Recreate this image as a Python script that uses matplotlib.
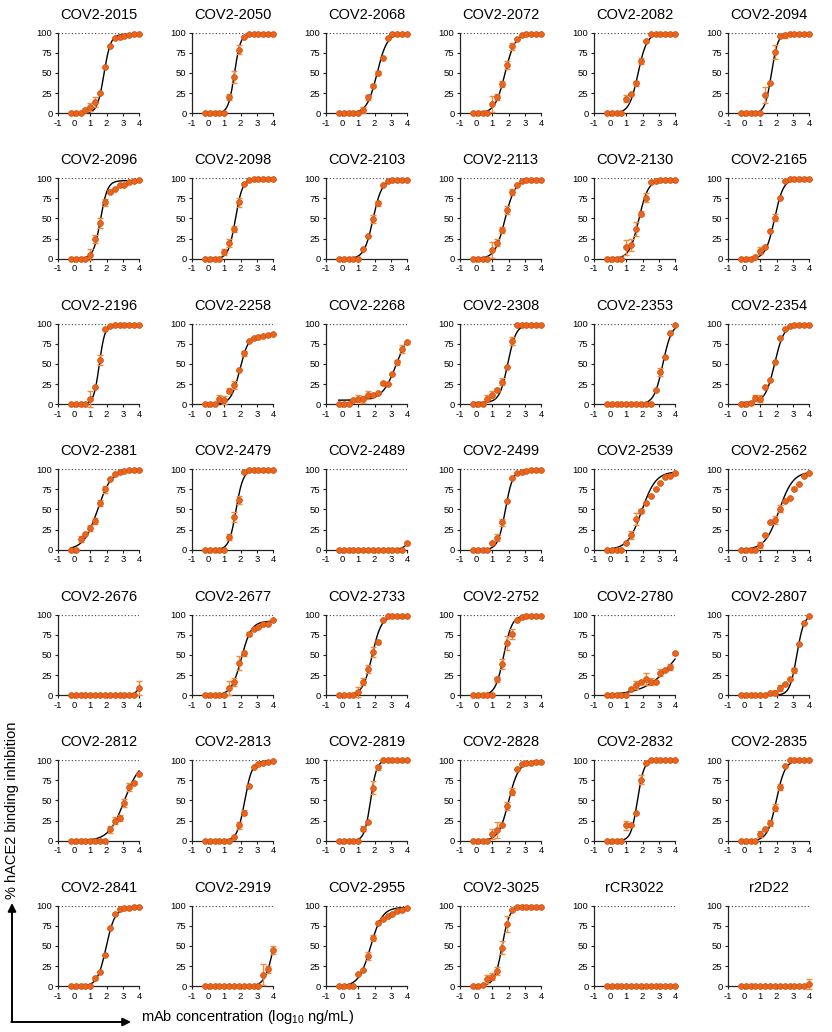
import numpy as np
import matplotlib
matplotlib.use("Agg")
import matplotlib.pyplot as plt
from matplotlib.patches import FancyArrowPatch

plt.rcParams['font.family'] = ['Liberation Sans', 'DejaVu Sans']
plt.rcParams['mathtext.default'] = 'regular'
plt.rcParams['axes.unicode_minus'] = False

# log10 of mAb concentration (ng/mL), 2-fold dilutions
log_conc = [-0.21, 0.09, 0.39, 0.69, 0.99, 1.29, 1.59, 1.89, 2.19, 2.49, 2.80, 3.10, 3.40, 3.70, 4.00]

names = ['COV2-2015', 'COV2-2050', 'COV2-2068', 'COV2-2072', 'COV2-2082', 'COV2-2094',
         'COV2-2096', 'COV2-2098', 'COV2-2103', 'COV2-2113', 'COV2-2130', 'COV2-2165',
         'COV2-2196', 'COV2-2258', 'COV2-2268', 'COV2-2308', 'COV2-2353', 'COV2-2354',
         'COV2-2381', 'COV2-2479', 'COV2-2489', 'COV2-2499', 'COV2-2539', 'COV2-2562',
         'COV2-2676', 'COV2-2677', 'COV2-2733', 'COV2-2752', 'COV2-2780', 'COV2-2807',
         'COV2-2812', 'COV2-2813', 'COV2-2819', 'COV2-2828', 'COV2-2832', 'COV2-2835',
         'COV2-2841', 'COV2-2919', 'COV2-2955', 'COV2-3025', 'rCR3022', 'r2D22']

# % hACE2 binding inhibition, one list per mAb (low -> high concentration)
inhibition = [
    [0, 0, 0, 4, 8, 14, 25, 57, 83, 93, 95, 96, 97, 98, 99],
    [0, 0, 0, 0, 0, 20, 45, 79, 95, 99, 99, 99, 99, 99, 99],
    [0, 0, 0, 0, 0, 4, 20, 34, 50, 68, 94, 98, 99, 99, 99],
    [0, 0, 0, 0, 11, 20, 36, 60, 83, 92, 97, 98, 98, 99, 99],
    [0, 0, 0, 0, 18, 24, 37, 65, 90, 99, 99, 99, 99, 99, 99],
    [0, 0, 0, 0, 0, 23, 38, 76, 96, 97, 99, 99, 99, 99, 99],
    [0, 0, 0, 0, 5, 25, 44, 70, 83, 87, 92, 92, 95, 96, 98],
    [0, 0, 0, 0, 8, 19, 37, 70, 93, 98, 99, 99, 99, 99, 99],
    [0, 0, 0, 0, 0, 12, 28, 49, 69, 91, 97, 98, 98, 98, 98],
    [0, 0, 0, 0, 11, 20, 36, 60, 83, 92, 97, 98, 98, 98, 98],
    [0, 0, 0, 0, 14, 17, 37, 56, 76, 95, 97, 98, 98, 98, 98],
    [0, 0, 0, 2, 10, 15, 35, 51, 76, 97, 99, 99, 99, 99, 99],
    [0, 0, 0, 0, 7, 21, 55, 93, 97, 98, 98, 99, 99, 99, 99],
    [0, 0, 0, 7, 5, 17, 24, 42, 63, 79, 82, 84, 85, 86, 87],
    [0, 0, 0, 5, 7, 6, 11, 11, 14, 26, 25, 37, 52, 68, 77],
    [0, 0, 0, 7, 12, 18, 28, 46, 79, 98, 99, 99, 99, 99, 99],
    [0, 0, 0, 0, 0, 0, 0, 0, 0, 0, 18, 40, 59, 88, 98],
    [0, 0, 1, 8, 7, 21, 30, 52, 82, 94, 97, 99, 99, 99, 99],
    [0, 0, 13, 20, 27, 36, 58, 75, 88, 94, 97, 98, 99, 99, 99],
    [0, 0, 0, 0, 0, 16, 41, 62, 96, 99, 99, 99, 99, 99, 99],
    [0, 0, 0, 0, 0, 0, 0, 0, 0, 0, 0, 0, 0, 0, 8],
    [0, 0, 0, 0, 8, 15, 34, 60, 89, 95, 97, 98, 99, 99, 99],
    [0, 0, 0, 0, 8, 18, 38, 48, 58, 67, 75, 83, 90, 92, 95],
    [0, 0, 0, 0, 6, 18, 34, 37, 51, 60, 64, 76, 82, 91, 95],
    [0, 0, 0, 0, 0, 0, 0, 0, 0, 0, 0, 0, 0, 0, 9],
    [0, 0, 0, 0, 0, 9, 16, 40, 52, 76, 82, 85, 88, 89, 93],
    [0, 0, 0, 0, 4, 17, 32, 54, 66, 93, 98, 99, 99, 99, 99],
    [0, 0, 0, 0, 0, 20, 39, 65, 76, 94, 97, 98, 99, 99, 99],
    [0, 0, 0, 0, 0, 8, 13, 17, 20, 17, 17, 28, 31, 35, 52],
    [0, 0, 0, 0, 0, 0, 3, 3, 9, 14, 20, 31, 64, 90, 99],
    [0, 0, 0, 0, 0, 0, 0, 0, 14, 25, 28, 47, 67, 72, 83],
    [0, 0, 0, 0, 0, 0, 4, 19, 35, 68, 91, 95, 97, 98, 99],
    [0, 0, 0, 0, 0, 15, 23, 66, 91, 100, 100, 100, 100, 100, 100],
    [0, 0, 0, 0, 8, 13, 19, 43, 61, 89, 95, 97, 97, 98, 98],
    [0, 0, 0, 0, 19, 19, 35, 76, 97, 100, 100, 100, 100, 100, 100],
    [0, 0, 0, 0, 8, 15, 22, 41, 67, 93, 100, 100, 100, 100, 100],
    [0, 0, 0, 0, 0, 10, 18, 39, 72, 90, 96, 97, 97, 98, 98],
    [0, 0, 0, 0, 0, 0, 0, 0, 0, 0, 0, 0, 14, 21, 45],
    [0, 0, 0, 0, 15, 20, 37, 60, 79, 83, 87, 90, 93, 95, 97],
    [0, 0, 1, 9, 12, 19, 48, 77, 95, 99, 99, 99, 99, 99, 99],
    [0, 0, 0, 0, 0, 0, 0, 0, 0, 0, 0, 0, 0, 0, 0],
    [0, 0, 0, 0, 0, 0, 0, 0, 0, 0, 0, 0, 0, 0, 3],
]

# SD error bars {point index: sd}
errors = [
    {3: 2, 4: 5, 5: 6}, {5: 4, 6: 7, 7: 6}, {5: 4, 6: 3, 7: 2, 8: 3},
    {4: 10, 5: 4, 6: 4, 7: 5, 8: 4}, {4: 4, 6: 3, 7: 4}, {5: 10, 7: 9, 9: 3},
    {4: 7, 5: 5, 6: 6, 7: 4, 8: 2}, {4: 4, 5: 5, 6: 4, 7: 6}, {7: 5, 8: 3},
    {4: 10, 5: 4, 6: 4, 7: 5, 8: 4}, {4: 9, 5: 8, 6: 9, 7: 3, 8: 5}, {4: 4, 7: 4},
    {4: 10, 6: 6}, {3: 4, 4: 5, 5: 3, 6: 5, 8: 3}, {4: 4, 5: 4, 6: 5, 9: 2, 12: 3, 13: 5, 14: 2},
    {3: 4, 4: 4, 5: 2, 6: 4, 8: 5}, {11: 5}, {3: 4, 4: 4},
    {2: 4, 4: 4, 5: 4, 6: 4, 7: 4}, {5: 4, 6: 6, 7: 5}, {14: 2},
    {5: 4, 6: 4}, {5: 5, 6: 7, 7: 3, 14: 2}, {4: 4, 7: 5, 8: 4, 11: 2},
    {14: 9}, {5: 9, 6: 5, 7: 9, 8: 3, 9: 3}, {4: 6, 5: 4, 6: 5, 7: 6, 8: 3},
    {5: 3, 6: 6, 7: 9, 8: 6}, {6: 5, 8: 7, 9: 4, 11: 4, 13: 4, 14: 2}, {7: 3, 8: 4, 11: 3},
    {8: 4, 9: 4, 10: 4, 11: 5, 12: 5, 13: 2}, {7: 4, 8: 3}, {5: 3, 7: 8, 8: 3},
    {4: 6, 5: 10, 7: 5, 8: 4}, {4: 6, 7: 5}, {4: 4, 6: 4, 7: 4, 8: 4},
    {5: 2}, {12: 13, 13: 4, 14: 5}, {6: 5, 7: 4},
    {3: 5, 4: 4, 5: 5, 6: 8, 7: 10}, {}, {14: 6},
]

# four-parameter logistic fits
fit_bottom = [0, 0, 0, 0, 0, 0, 0, 0, 0, 0, 0, 0, 0, 0, 5, 2, 0, 2, 0, 0, 0,
              0, 0, 0, 0, 0, 0, 0, 0, 0, 0, 0, 0, 0, 0, 0, 0, 0, 0, 1, 0, 0]
fit_top = [98, 99, 99, 99, 99, 99, 97, 99, 98, 98, 98, 99, 99, 86, 95, 99, 100, 99, 100, 99, 100,
           99, 97, 97, 100, 92, 99, 99, 100, 100, 100, 99, 100, 98, 100, 100, 97, 100, 98, 99, 0, 0]
fit_logec50 = [1.84, 1.62, 2.15, 1.78, 1.72, 1.68, 1.62, 1.68, 1.90, 1.78, 1.77, 1.87,
               1.55, 1.95, 3.35, 1.95, 3.25, 1.88, 1.45, 1.72, 4.60, 1.80, 1.95, 2.15,
               4.50, 2.05, 1.85, 1.70, 4.20, 3.25, 3.10, 2.25, 1.75, 2.00, 1.68, 1.98,
               1.97, 4.05, 1.75, 1.60, 2.00, 2.00]
fit_hill = [2.1, 2.3, 1.4, 1.4, 1.6, 2.2, 2.0, 2.0, 1.6, 1.4, 1.5, 1.6,
            2.5, 1.6, 1.0, 1.7, 1.6, 1.5, 1.0, 2.0, 1.8, 1.9, 1.0, 1.0,
            2.0, 1.4, 1.5, 1.7, 0.45, 2.0, 0.9, 1.9, 2.3, 1.4, 2.2, 1.6,
            1.6, 1.6, 1.2, 1.9, 1.0, 1.0]

W, H = 832, 1032
fig = plt.figure(figsize=(W / 100, H / 100), dpi=100)

xfit = np.linspace(log_conc[0], log_conc[-1], 300)
for i, name in enumerate(names):
    r, c = divmod(i, 6)
    left = 58 + 134 * c
    top = 32.7 + 145.5 * r
    ax = fig.add_axes([left / W, 1 - (top + 80.5) / H, 81 / W, 80.5 / H])

    y = inhibition[i]
    err = [errors[i].get(k, 0) for k in range(len(log_conc))]
    yfit = fit_bottom[i] + (fit_top[i] - fit_bottom[i]) / (1 + 10 ** ((fit_logec50[i] - xfit) * fit_hill[i]))

    ax.axhline(100, ls=':', color='#555555', lw=0.9, zorder=1)
    ax.plot(xfit, yfit, color='black', lw=1.0, zorder=2, clip_on=False)
    ax.errorbar(log_conc, y, yerr=err, fmt='none', ecolor='#F08A3C', elinewidth=1.0,
                capsize=2, capthick=1.0, zorder=3, clip_on=False)
    ax.plot(log_conc, y, 'o', ms=4.2, mfc='#EB6418', mec='#C9521A', mew=0.5,
            zorder=4, clip_on=False)

    ax.set_xlim(-1, 4)
    ax.set_ylim(0, 100)
    ax.set_xticks([-1, 0, 1, 2, 3, 4])
    ax.set_yticks([0, 25, 50, 75, 100])
    ax.spines['top'].set_visible(False)
    ax.spines['right'].set_visible(False)
    for s in ['left', 'bottom']:
        ax.spines[s].set_linewidth(0.9)
        ax.spines[s].set_color('#222222')
    ax.tick_params(direction='out', length=2.5, width=0.8, labelsize=6.8, pad=1.5,
                   color='#222222')
    ax.set_title(name, fontsize=10.5, pad=10)

# axis labels with L-shaped arrows
fig.add_artist(FancyArrowPatch((12, 10), (12, 129), transform=None, arrowstyle='-|>',
                               mutation_scale=12, lw=1.4, color='black', shrinkA=0, shrinkB=0))
fig.add_artist(FancyArrowPatch((11.3, 10), (131, 10), transform=None, arrowstyle='-|>',
                               mutation_scale=12, lw=1.4, color='black', shrinkA=0, shrinkB=0))
fig.text(12 / W, 1 - 810 / H, '% hACE2 binding inhibition', rotation=90,
         ha='center', va='center', fontsize=10.5)
fig.text(141 / W, 1 - 1017 / H, 'mAb concentration (log$_{10}$ ng/mL)',
         ha='left', va='center', fontsize=10.5)

fig.savefig('out.png', dpi=100)
